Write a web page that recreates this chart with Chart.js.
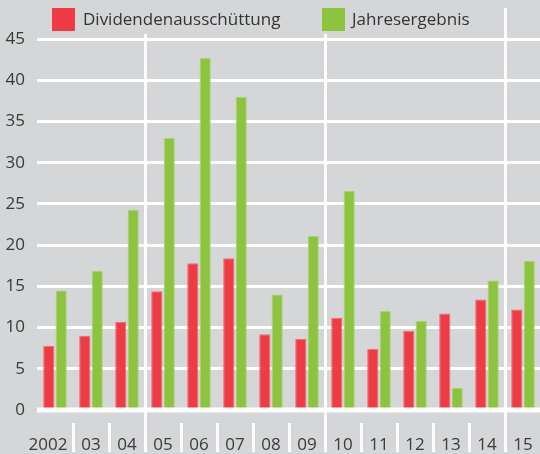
<!DOCTYPE html>
<html lang="de">
<head>
<meta charset="utf-8">
<script src="https://cdn.jsdelivr.net/npm/chart.js@4/dist/chart.umd.min.js"></script>
<style>
    html, body { margin: 0; padding: 0; background: #d5d6d8; overflow: hidden; }
    .wrap { position: relative; width: 544px; height: 454px; }
    .legend { position: absolute; top: 0; left: 0; font-family: 'Open Sans', sans-serif; font-size: 17px; color: #333; }
    .legend span { position: absolute; white-space: nowrap; }
    .legend .box { width: 23px; height: 23px; top: 8px; }
    .legend .txt { top: 7px; line-height: 24px; }
</style>
</head>
<body>
<div class="wrap">
    <canvas id="chart" width="544" height="454"></canvas>
    <div class="legend">
        <span class="box" style="left:52px;background:#ef3b45"></span>
        <span class="txt" style="left:83px">Dividendenausschüttung</span>
        <span class="box" style="left:322px;background:#8cc43f"></span>
        <span class="txt" style="left:352px">Jahresergebnis</span>
    </div>
</div>
<script>
(function () {
    var years = ['2002', '03', '04', '05', '06', '07', '08', '09', '10', '11', '12', '13', '14', '15'];
    var dividende = [7.8, 9.0, 10.7, 14.4, 17.8, 18.4, 9.2, 8.6, 11.2, 7.4, 9.6, 11.7, 13.4, 12.2];
    var ergebnis = [14.5, 16.9, 24.3, 33.0, 42.7, 38.0, 14.0, 21.1, 26.6, 12.0, 10.8, 2.7, 15.7, 18.1];
    var yTicks = [0, 5, 10, 15, 20, 25, 30, 35, 40, 45];
    // a full-height white line follows these years (index into years)
    var groupBreaks = [2, 7, 12];

    var colors = {
        red: '#ef3b45',
        redEdge: '#f06a72',
        green: '#8cc43f',
        greenEdge: '#a9d470',
        text: '#3a3a3a',
        grid: '#ffffff'
    };

    var font = { family: "'Open Sans', sans-serif", size: 17 };

    function boundary(x, i) {
        return Math.round((x.getPixelForValue(i - 1) + x.getPixelForValue(i)) / 2) + 0.5;
    }

    var decorations = {
        id: 'decorations',
        beforeDatasetsDraw: function (chart) {
            var ctx = chart.ctx;
            var x = chart.scales.x;
            var area = chart.chartArea;
            ctx.save();
            ctx.strokeStyle = colors.grid;
            ctx.lineWidth = 3;
            for (var i = 1; i < years.length; i++) {
                var bx = boundary(x, i);
                var isBreak = groupBreaks.indexOf(i - 1) !== -1;
                var top = isBreak ? (i === years.length - 1 ? 8 : area.top - 5) : area.bottom + 13;
                ctx.beginPath();
                ctx.moveTo(bx, top);
                ctx.lineTo(bx, chart.height - 2);
                ctx.stroke();
            }
            ctx.restore();
        },
        afterDatasetsDraw: function (chart) {
            var ctx = chart.ctx;
            var x = chart.scales.x;
            var y = chart.scales.y;
            var area = chart.chartArea;
            var y0 = y.getPixelForValue(0);
            ctx.save();
            ctx.fillStyle = colors.grid;
            ctx.fillRect(area.left, y0 - 2.5, chart.width - area.left, 5);

            // year labels; the first one sits left of its tick mark
            ctx.fillStyle = colors.text;
            ctx.font = font.size + 'px ' + font.family;
            ctx.textBaseline = 'alphabetic';
            years.forEach(function (label, i) {
                if (i === 0) {
                    ctx.textAlign = 'right';
                    ctx.fillText(label, boundary(x, 1) - 6, area.bottom + 40);
                } else {
                    ctx.textAlign = 'center';
                    ctx.fillText(label, x.getPixelForValue(i), area.bottom + 40);
                }
            });
            ctx.restore();
        }
    };

    new Chart(document.getElementById('chart'), {
        type: 'bar',
        data: {
            labels: years,
            datasets: [
                {
                    label: 'Dividendenausschüttung',
                    data: dividende,
                    backgroundColor: colors.red,
                    borderColor: colors.redEdge,
                    borderWidth: 1
                },
                {
                    label: 'Jahresergebnis',
                    data: ergebnis,
                    backgroundColor: colors.green,
                    borderColor: colors.greenEdge,
                    borderWidth: 1
                }
            ]
        },
        options: {
            responsive: false,
            animation: false,
            categoryPercentage: 0.69,
            barPercentage: 0.9,
            layout: { padding: { top: 39, right: 3, left: 0, bottom: 0 } },
            plugins: {
                legend: { display: false },
                tooltip: { enabled: false }
            },
            scales: {
                x: {
                    grid: { display: false },
                    border: { display: false },
                    ticks: { display: false },
                    afterFit: function (scale) { scale.height = 44; }
                },
                y: {
                    min: 0,
                    max: 45,
                    afterBuildTicks: function (scale) {
                        scale.ticks = yTicks.map(function (v) { return { value: v }; });
                    },
                    grid: { color: colors.grid, lineWidth: 3, drawTicks: false },
                    border: { display: false },
                    ticks: { color: colors.text, font: font, padding: 12 },
                    afterFit: function (scale) { scale.width = 37; }
                }
            }
        },
        plugins: [decorations]
    });
}());
</script>
</body>
</html>
